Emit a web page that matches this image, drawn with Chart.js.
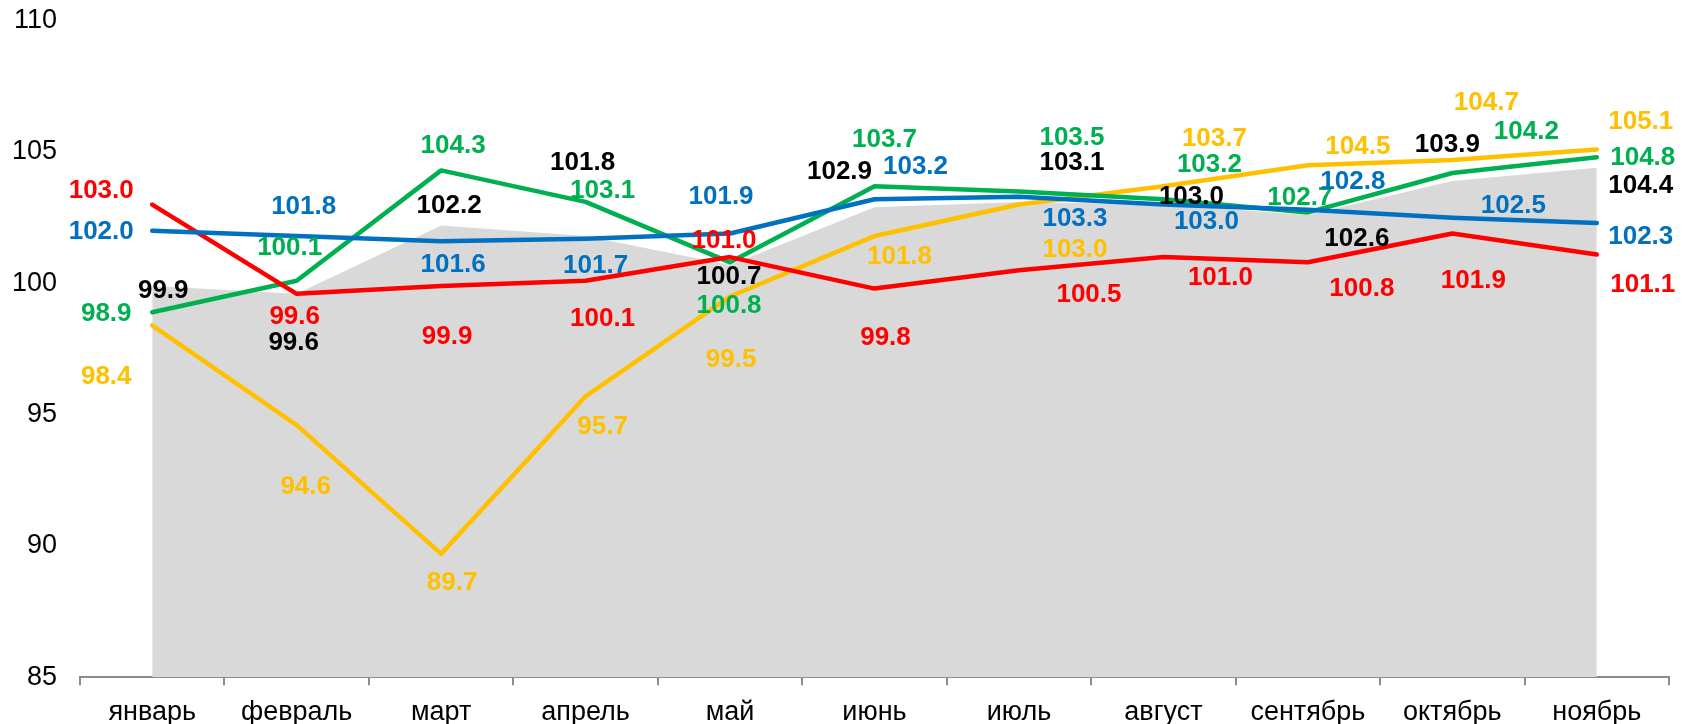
<!DOCTYPE html>
<html>
<head>
<meta charset="utf-8">
<script src="https://cdn.jsdelivr.net/npm/chart.js@4.4.1/dist/chart.umd.min.js"></script>
<style>
  html, body { margin: 0; padding: 0; background: #fff; }
  #wrap { width: 1683px; height: 724px; }
</style>
</head>
<body>
<div id="wrap"><canvas id="chart" width="1683" height="724"></canvas></div>
<script>
// Categories and series
const months = ['январь', 'февраль', 'март', 'апрель', 'май', 'июнь', 'июль', 'август', 'сентябрь', 'октябрь', 'ноябрь'];
const areaValues = [99.9, 99.6, 102.2, 101.8, 100.7, 102.9, 103.1, 103.0, 102.6, 103.9, 104.4];
const redValues = [103.0, 99.6, 99.9, 100.1, 101.0, 99.8, 100.5, 101.0, 100.8, 101.9, 101.1];
const greenValues = [98.9, 100.1, 104.3, 103.1, 100.8, 103.7, 103.5, 103.2, 102.7, 104.2, 104.8];
const blueValues = [102.0, 101.8, 101.6, 101.7, 101.9, 103.2, 103.3, 103.0, 102.8, 102.5, 102.3];
const yellowValues = [98.4, 94.6, 89.7, 95.7, 99.5, 101.8, 103.0, 103.7, 104.5, 104.7, 105.1];
const yTicks = [85, 90, 95, 100, 105, 110];

// Label placement relative to each point (px)
const areaLabelPos = [[11,5],[-3,49],[8,-20],[-3,-73],[-1,12],[-35,-35],[53,-39],[28,-8],[49,24],[-5,-36],[44,18]];
const redLabelPos = [[-51,-14],[-2,23],[6,51],[17,38],[-6,-16],[11,49],[70,25],[57,21],[54,26],[21,47],[46,30]];
const greenLabelPos = [[-46,2],[-7,-33],[12,-25],[17,-11],[-1,43],[10,-46],[53,-54],[46,-34],[-8,-15],[74,-41],[46,1]];
const blueLabelPos = [[-51,1],[7,-29],[12,24],[10,27],[-9,-37],[41,-32],[56,22],[43,17],[45,-28],[61,-12],[44,14]];
const yellowLabelPos = [[-46,51],[9,62],[11,29],[17,31],[1,63],[25,21],[56,45],[51,-47],[50,-18],[34,-57],[44,-28]];

const FONT = '"Liberation Sans", Arial, sans-serif';

function lineSet(data, color, order, labelPos) {
    return {
        data: data,
        borderColor: color,
        borderWidth: 4.5,
        borderCapStyle: 'round',
        borderJoinStyle: 'round',
        pointRadius: 0,
        tension: 0,
        fill: false,
        order: order,
        labelColor: color,
        labelPos: labelPos
    };
}

// Draws the value labels next to every point
const valueLabels = {
    id: 'valueLabels',
    afterDatasetsDraw(chart) {
        const ctx = chart.ctx;
        ctx.save();
        ctx.font = 'bold 26px ' + FONT;
        ctx.textAlign = 'center';
        ctx.textBaseline = 'middle';
        chart.data.datasets.forEach((ds, i) => {
            const meta = chart.getDatasetMeta(i);
            ctx.fillStyle = ds.labelColor;
            meta.data.forEach((pt, j) => {
                const off = ds.labelPos[j];
                ctx.fillText(ds.data[j].toFixed(1), pt.x + off[0], pt.y + off[1]);
            });
        });
        ctx.restore();
    }
};

const ctx = document.getElementById('chart').getContext('2d');
const chart = new Chart(ctx, {
    type: 'line',
    data: {
        labels: months,
        datasets: [
            {
                data: areaValues,
                borderWidth: 0,
                backgroundColor: '#D9D9D9',
                pointRadius: 0,
                tension: 0,
                fill: 'start',
                order: 10,
                labelColor: '#000000',
                labelPos: areaLabelPos
            },
            lineSet(yellowValues, '#FFC000', 5, yellowLabelPos),
            lineSet(greenValues, '#00B050', 4, greenLabelPos),
            lineSet(redValues, '#FF0000', 3, redLabelPos),
            lineSet(blueValues, '#0070C0', 2, blueLabelPos)
        ]
    },
    options: {
        responsive: false,
        animation: false,
        layout: { padding: { top: 20.7, right: 14, bottom: 0, left: 0 } },
        plugins: {
            legend: { display: false },
            tooltip: { enabled: false }
        },
        scales: {
            x: {
                offset: true,
                grid: {
                    offset: true,
                    drawOnChartArea: false,
                    drawTicks: true,
                    tickLength: 8,
                    color: '#8C8C8C',
                    lineWidth: 2
                },
                border: { display: true, color: '#8C8C8C', width: 2 },
                ticks: {
                    color: '#000000',
                    font: { family: FONT, size: 27 },
                    padding: 11,
                    maxRotation: 0,
                    autoSkip: false
                },
                afterFit(scale) {
                    scale.height = 46.7;
                    scale.paddingLeft = 0;
                    scale.paddingRight = 0;
                }
            },
            y: {
                min: 85,
                max: 110,
                afterBuildTicks(scale) { scale.ticks = yTicks.map(v => ({ value: v })); },
                grid: { display: false, drawTicks: false },
                border: { display: false },
                ticks: {
                    color: '#000000',
                    font: { family: FONT, size: 27 },
                    padding: 23
                },
                afterFit(scale) {
                    scale.width = 80;
                    scale.paddingTop = 0;
                    scale.paddingBottom = 0;
                }
            }
        }
    },
    plugins: [valueLabels]
});
</script>
</body>
</html>
